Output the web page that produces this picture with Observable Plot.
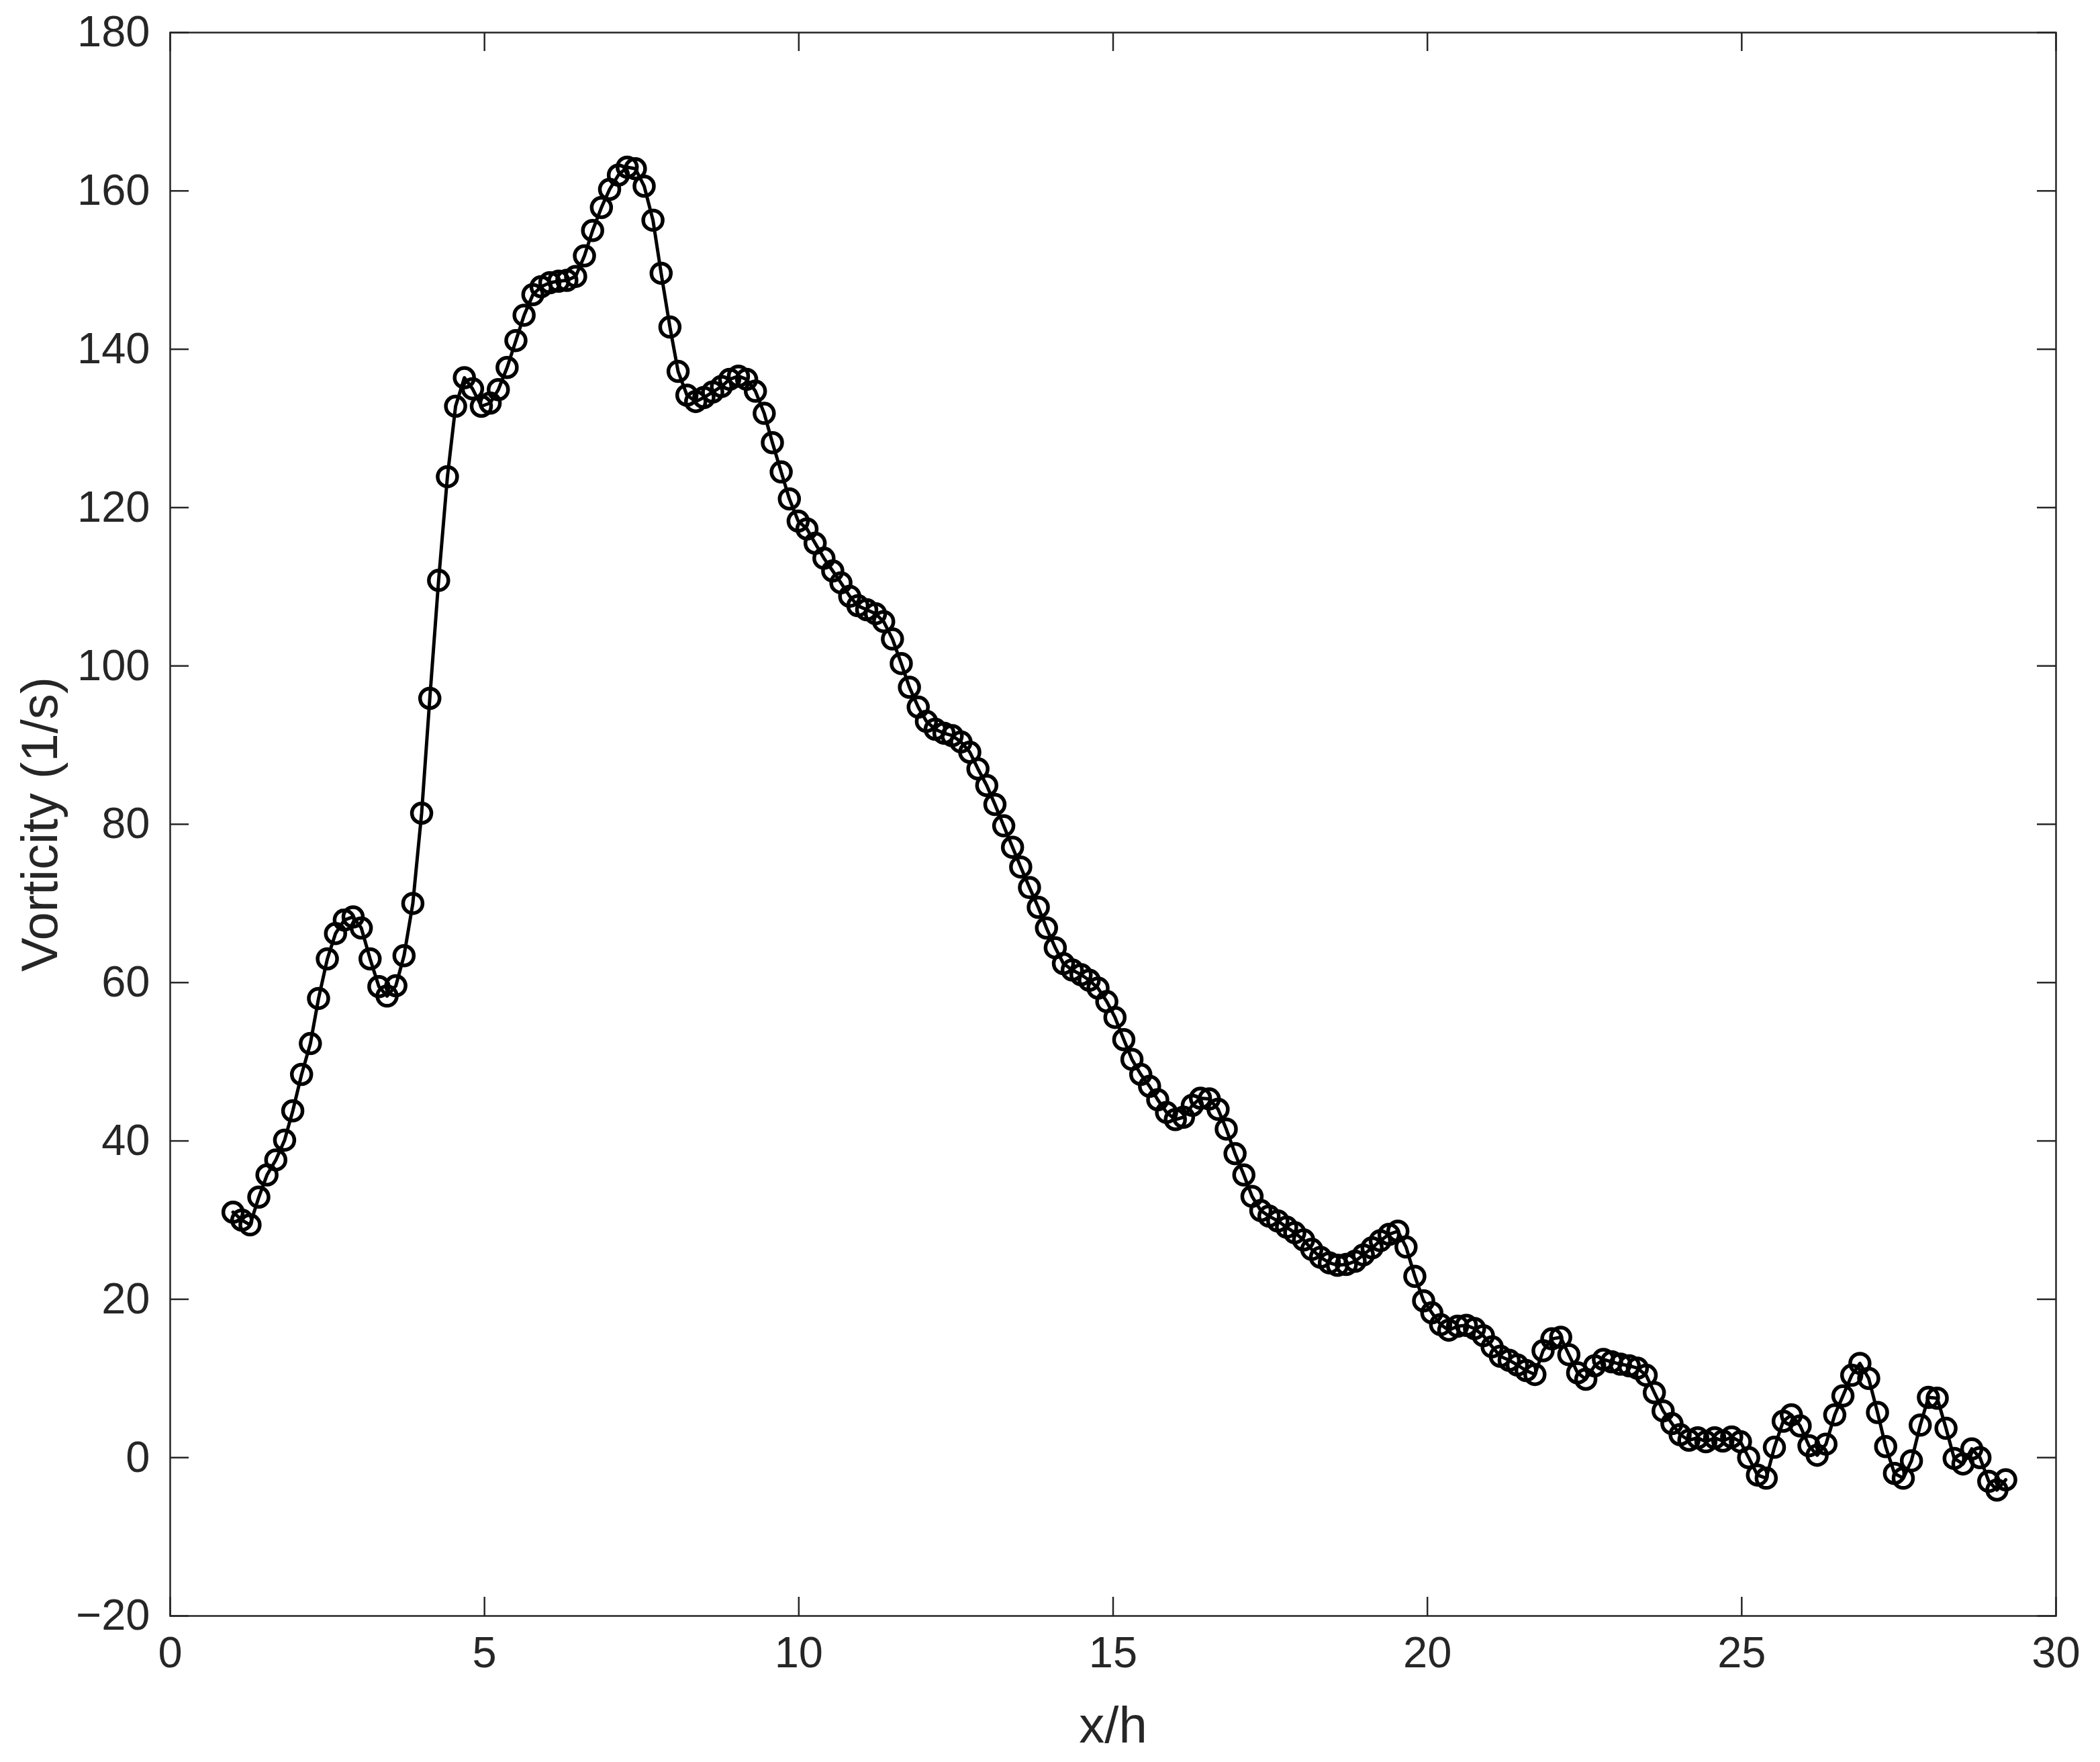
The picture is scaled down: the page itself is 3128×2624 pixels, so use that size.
<!DOCTYPE html>
<html>
<head>
<meta charset="utf-8">
<script src="https://cdn.jsdelivr.net/npm/d3@7"></script>
<script src="https://cdn.jsdelivr.net/npm/@observablehq/plot@0.6"></script>
<style>
  html, body { margin: 0; padding: 0; background: #ffffff; overflow: hidden; }
  #chart svg { display: block; }
</style>
</head>
<body>
<div id="chart"></div>
<script>
// x/h positions of the samples
const xh = [
  1.00, 1.14, 1.27, 1.41, 1.54, 1.68, 1.82, 1.95, 2.09, 2.23,
  2.36, 2.50, 2.63, 2.77, 2.91, 3.04, 3.18, 3.32, 3.45, 3.59,
  3.72, 3.86, 4.00, 4.13, 4.27, 4.41, 4.54, 4.68, 4.81, 4.95,
  5.09, 5.22, 5.36, 5.50, 5.63, 5.77, 5.90, 6.04, 6.18, 6.31,
  6.45, 6.59, 6.72, 6.86, 6.99, 7.13, 7.27, 7.40, 7.54, 7.68,
  7.81, 7.95, 8.08, 8.22, 8.36, 8.49, 8.63, 8.77, 8.90, 9.04,
  9.17, 9.31, 9.45, 9.58, 9.72, 9.85, 9.99, 10.13, 10.26, 10.40,
  10.54, 10.67, 10.81, 10.94, 11.08, 11.22, 11.35, 11.49, 11.63, 11.76,
  11.90, 12.03, 12.17, 12.31, 12.44, 12.58, 12.72, 12.85, 12.99, 13.12,
  13.26, 13.40, 13.53, 13.67, 13.81, 13.94, 14.08, 14.21, 14.35, 14.49,
  14.62, 14.76, 14.90, 15.03, 15.17, 15.30, 15.44, 15.58, 15.71, 15.85,
  15.99, 16.12, 16.26, 16.39, 16.53, 16.67, 16.80, 16.94, 17.08, 17.21,
  17.35, 17.48, 17.62, 17.76, 17.89, 18.03, 18.16, 18.30, 18.44, 18.57,
  18.71, 18.85, 18.98, 19.12, 19.25, 19.39, 19.53, 19.66, 19.80, 19.94,
  20.07, 20.21, 20.34, 20.48, 20.62, 20.75, 20.89, 21.03, 21.16, 21.30,
  21.43, 21.57, 21.71, 21.84, 21.98, 22.12, 22.25, 22.39, 22.52, 22.66,
  22.80, 22.93, 23.07, 23.21, 23.34, 23.48, 23.61, 23.75, 23.89, 24.02,
  24.16, 24.30, 24.43, 24.57, 24.70, 24.84, 24.98, 25.11, 25.25, 25.39,
  25.52, 25.66, 25.79, 25.93, 26.07, 26.20, 26.34, 26.48, 26.61, 26.75,
  26.88, 27.02, 27.16, 27.29, 27.43, 27.57, 27.70, 27.84, 27.97, 28.11,
  28.25, 28.38, 28.52, 28.66, 28.79, 28.93, 29.06, 29.20
];

// Vorticity (1/s) at each sample
const vorticity = [
  31.0, 30.0, 29.4, 32.9, 35.7, 37.6, 40.1, 43.8, 48.4, 52.3,
  58.0, 63.0, 66.2, 67.9, 68.3, 66.9, 63.0, 59.5, 58.3, 59.6,
  63.4, 70.0, 81.4, 95.9, 110.8, 123.9, 132.8, 136.4, 135.0, 132.8,
  133.2, 134.9, 137.7, 141.1, 144.3, 146.9, 147.9, 148.4, 148.6, 148.7,
  149.2, 151.8, 155.0, 157.9, 160.2, 162.0, 163.0, 162.8, 160.6, 156.3,
  149.6, 142.8, 137.2, 134.2, 133.4, 133.9, 134.6, 135.3, 136.2, 136.6,
  136.2, 134.7, 131.9, 128.2, 124.5, 121.1, 118.3, 117.3, 115.5, 113.6,
  112.0, 110.5, 108.8, 107.6, 107.1, 106.6, 105.6, 103.4, 100.3, 97.3,
  94.8, 93.0, 92.0, 91.5, 91.2, 90.4, 89.1, 87.0, 84.9, 82.5,
  79.8, 77.1, 74.6, 72.0, 69.5, 66.9, 64.4, 62.4, 61.6, 61.0,
  60.3, 59.3, 57.6, 55.6, 52.8, 50.3, 48.4, 46.9, 45.2, 43.6,
  42.7, 43.0, 44.5, 45.4, 45.3, 44.0, 41.5, 38.4, 35.7, 33.0,
  31.2, 30.5, 29.9, 29.1, 28.4, 27.5, 26.3, 25.3, 24.6, 24.3,
  24.4, 24.8, 25.6, 26.5, 27.4, 28.2, 28.6, 26.6, 22.9, 19.8,
  18.3, 16.8, 16.1, 16.6, 16.7, 16.3, 15.4, 14.0, 12.8, 12.3,
  11.7, 11.0, 10.5, 13.5, 15.0, 15.2, 13.0, 10.7, 9.9, 11.6,
  12.4, 12.1, 11.8, 11.6, 11.3, 10.4, 8.2, 5.9, 4.3, 2.9,
  2.2, 2.5, 2.0, 2.5, 2.1, 2.6, 2.0, 0.0, -2.2, -2.6,
  1.3, 4.6, 5.4, 4.0, 1.5, 0.3, 1.7, 5.4, 7.8, 10.4,
  11.9, 10.0, 5.7, 1.4, -2.0, -2.6, -0.4, 4.1, 7.6, 7.5,
  3.7, -0.1, -0.8, 1.1, 0.0, -3.0, -4.1, -2.8
];

const xTicks = [0, 5, 10, 15, 20, 25, 30];
const yTicks = [-20, 0, 20, 40, 60, 80, 100, 120, 140, 160, 180];
const xLabel = "x/h";
const yLabel = "Vorticity (1/s)";

const data = xh.map((x, i) => ({x, v: vorticity[i]}));

const W = 3128, H = 2624;
const mL = 253, mR = 66, mT = 48, mB = 218;
const innerW = W - mL - mR, innerH = H - mT - mB;
const tickLen = 28;
const axisColor = "#262626";

const chart = Plot.plot({
  width: W,
  height: H,
  marginLeft: mL,
  marginRight: mR,
  marginTop: mT,
  marginBottom: mB,
  style: {
    fontFamily: "Arial, 'Liberation Sans', Helvetica, sans-serif",
    fontSize: "65px",
    color: axisColor,
    background: "#ffffff"
  },
  x: {domain: [0, 30]},
  y: {domain: [-20, 180]},
  marks: [
    Plot.frame({stroke: axisColor, strokeWidth: 2.5}),
    // inward ticks on all four sides
    Plot.tickX(xTicks, {x: d => d, insetTop: innerH - tickLen, stroke: axisColor, strokeWidth: 2.5}),
    Plot.tickX(xTicks, {x: d => d, insetBottom: innerH - tickLen, stroke: axisColor, strokeWidth: 2.5}),
    Plot.tickY(yTicks, {y: d => d, insetRight: innerW - tickLen, stroke: axisColor, strokeWidth: 2.5}),
    Plot.tickY(yTicks, {y: d => d, insetLeft: innerW - tickLen, stroke: axisColor, strokeWidth: 2.5}),
    Plot.axisX({ticks: xTicks, tickSize: 0, tickPadding: 30, fontSize: 65, label: null}),
    Plot.axisY({ticks: yTicks, tickSize: 0, tickPadding: 30, fontSize: 65, label: null}),
    Plot.line(data, {x: "x", y: "v", stroke: "#000000", strokeWidth: 5}),
    Plot.dot(data, {x: "x", y: "v", r: 14.5, stroke: "#000000", strokeWidth: 5.5, fill: "none"}),
    Plot.text([xLabel], {text: d => d, frameAnchor: "bottom", textAnchor: "middle", lineAnchor: "middle", dy: 164, fontSize: 76, fill: axisColor}),
    Plot.text([yLabel], {text: d => d, frameAnchor: "left", textAnchor: "middle", lineAnchor: "middle", rotate: -90, dx: -193, fontSize: 76, fill: axisColor})
  ]
});

document.getElementById("chart").appendChild(chart);
</script>
</body>
</html>
